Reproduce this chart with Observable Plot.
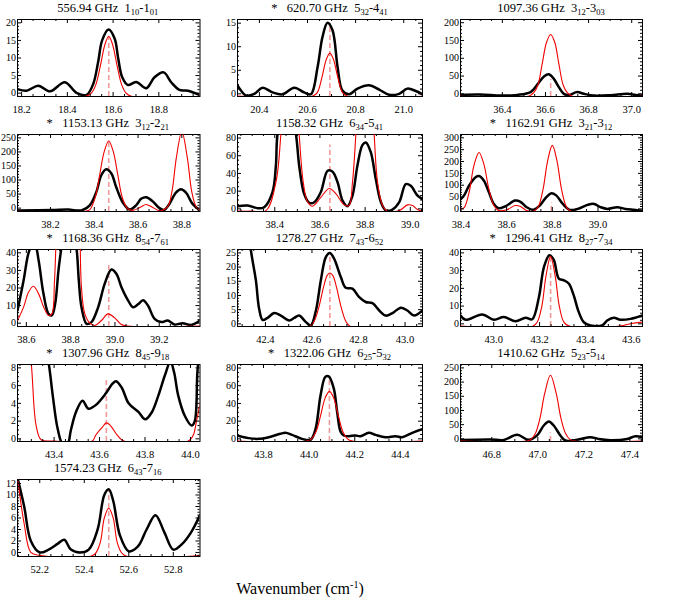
<!DOCTYPE html>
<html><head><meta charset="utf-8">
<script src="https://cdn.jsdelivr.net/npm/d3@7"></script>
<script src="https://cdn.jsdelivr.net/npm/@observablehq/plot@0.6"></script>
<style>
body{margin:0;background:#fff;}
#chart{position:relative;width:678px;height:611px;background:#fff;font-family:"Liberation Serif","Times New Roman",Times,"DejaVu Serif",serif;color:#000;overflow:hidden;}
.ttl{position:absolute;text-align:center;font-size:12.5px;line-height:14px;white-space:nowrap;}
.ttl sub{font-size:8.5px;vertical-align:baseline;position:relative;top:3px;}
.pn{position:absolute;}
#xlab{position:absolute;left:200px;width:200px;top:579px;text-align:center;font-size:16px;line-height:20px;white-space:nowrap;}
#xlab sup{font-size:10px;vertical-align:baseline;position:relative;top:-6px;}
</style></head><body><div id="chart"></div>
<script>
// ---------- titles ----------
const freqs = ["556.94","620.70","1097.36","1153.13","1158.32","1162.91","1168.36","1278.27","1296.41","1307.96","1322.06","1410.62","1574.23"];
const starred = [false,true,false,true,false,true,true,false,true,true,true,false,false];
const upperJ = ["1","5","3","3","6","3","8","7","8","8","6","5","6"];
const upperK = ["10","32","12","12","34","21","54","43","27","45","25","23","43"];
const lowerJ = ["1","4","3","2","5","3","7","6","7","9","5","5","7"];
const lowerK = ["01","41","03","21","41","12","61","52","34","18","32","14","16"];

// ---------- axes ----------
const xDomains = [[18.182,18.980],[20.309,21.078],[36.206,37.050],[38.049,38.883],[38.235,39.054],[38.398,39.195],[38.560,39.384],[42.280,43.075],[42.855,43.649],[43.239,44.042],[43.686,44.497],[46.664,47.455],[52.10,52.92]];
const yDomains = [[-0.96,20.96],[-0.57,15.78],[-7.5,209],[-12,262],[-3,84],[-11,314],[-1.9,41.9],[-0.94,26.2],[-1.5,41.9],[-0.3,8.38],[-3,84],[-9.4,262],[-0.7,12.7]];
const xTicks = [[18.2,18.4,18.6,18.8],[20.4,20.6,20.8,21.0],[36.4,36.6,36.8,37.0],[38.2,38.4,38.6,38.8],[38.4,38.6,38.8,39.0],[38.4,38.6,38.8,39.0],[38.6,38.8,39.0,39.2],[42.4,42.6,42.8,43.0],[43.0,43.2,43.4,43.6],[43.4,43.6,43.8,44.0],[43.8,44.0,44.2,44.4],[46.8,47.0,47.2,47.4],[52.2,52.4,52.6,52.8]];
const yTicks = [[0,5,10,15,20],[0,5,10,15],[0,50,100,150,200],[0,50,100,150,200,250],[0,20,40,60,80],[0,50,100,150,200,250,300],[0,10,20,30,40],[0,5,10,15,20,25],[0,10,20,30,40],[0,2,4,6,8],[0,20,40,60,80],[0,50,100,150,200,250],[0,2,4,6,8,10,12]];

// ---------- line centres (dashed markers) ----------
const lineX = [18.581,20.693,36.624,38.466,38.644,38.796,38.972,42.677,43.248,43.630,44.089,47.055,52.51];
const lineTop = [16,15,40,236,72,25,34,25,37.7,6.6,68,21,10.8];

// ---------- observed spectra (black) ----------
const obs1 = [[18.182,1.15],[18.222,0.7],[18.273,2.1],[18.324,0.5],[18.389,3.1],[18.440,0.1],[18.484,-0.5],[18.513,2.6],[18.535,9],[18.552,15],[18.580,18.1],[18.607,15.5],[18.622,10],[18.640,4.5],[18.665,2.3],[18.701,3.2],[18.745,1.4],[18.781,4.5],[18.821,5.9],[18.854,3.1],[18.890,0.9],[18.927,0.7],[18.980,-0.6]];
const obs2 = [[20.309,1.8],[20.325,0.6],[20.344,-0.35],[20.379,0],[20.413,1.3],[20.455,0.3],[20.496,-0.1],[20.545,1.3],[20.586,0.3],[20.614,-0.1],[20.642,5.7],[20.662,12],[20.683,15.1],[20.704,13.5],[20.725,5.7],[20.745,0.7],[20.773,-0.1],[20.808,1.1],[20.856,1.8],[20.898,0.9],[20.939,-0.2],[20.981,0],[21.015,1.1],[21.050,0.6],[21.078,-0.1]];
const obs3 = [[36.206,-3],[36.299,-2],[36.392,-5],[36.469,-3],[36.531,5],[36.565,28],[36.593,49],[36.616,55],[36.639,42],[36.662,19],[36.685,0],[36.709,-3],[36.747,5],[36.778,0],[36.824,-5],[36.902,-4],[36.979,0],[37.018,-3],[37.050,-5]];
const obs4 = [[38.049,-8],[38.205,-7],[38.281,-5],[38.341,-8],[38.379,10],[38.409,57],[38.432,117],[38.455,138],[38.478,123],[38.500,75],[38.531,19],[38.561,-5],[38.591,10],[38.614,33],[38.637,39],[38.667,24],[38.698,0],[38.720,-6],[38.743,15],[38.773,55],[38.796,67],[38.819,55],[38.849,15],[38.883,-8]];
const obs5 = [[38.235,3],[38.280,3.8],[38.324,0.8],[38.353,1.9],[38.390,19],[38.405,49],[38.412,84],[38.455,138],[38.494,84],[38.508,49],[38.530,17],[38.553,6.8],[38.575,7.5],[38.604,19],[38.634,43],[38.656,42],[38.678,30],[38.700,9.4],[38.722,3],[38.744,15],[38.766,49],[38.788,72],[38.803,75],[38.825,64],[38.847,34],[38.870,7.5],[38.892,-1.9],[38.921,-0.8],[38.951,7.5],[38.980,28],[39.002,26],[39.032,15],[39.054,11]];
const obs6 = [[38.398,40],[38.414,57],[38.436,99],[38.464,134],[38.479,139],[38.500,120],[38.522,71],[38.544,21],[38.565,3],[38.594,11],[38.637,35],[38.659,31],[38.688,7],[38.717,-4],[38.745,14],[38.774,50],[38.796,66],[38.817,57],[38.846,21],[38.875,-4],[38.911,0],[38.954,17],[38.983,21],[39.012,7],[39.041,0],[39.084,7],[39.120,0],[39.156,-4],[39.195,-8]];
const obs7 = [[38.560,7.2],[38.587,24],[38.610,40],[38.625,44],[38.640,44],[38.655,36],[38.677,17],[38.700,5.3],[38.715,4.4],[38.730,11],[38.745,30],[38.757,42],[38.79,72],[38.827,42],[38.837,24],[38.849,9],[38.872,-0.4],[38.894,0.6],[38.924,9],[38.954,22.5],[38.984,30.5],[39.007,28],[39.029,20.6],[39.059,13],[39.082,9],[39.104,10.7],[39.127,13],[39.149,10],[39.179,2.5],[39.209,0.6],[39.239,1.5],[39.269,-0.8],[39.306,0],[39.344,-1],[39.384,1.5]];
const obs8 = [[42.280,70],[42.31,45],[42.337,26.2],[42.359,15.3],[42.373,5.3],[42.388,1.4],[42.409,2.1],[42.438,3.8],[42.466,2.9],[42.502,1.2],[42.524,2.1],[42.545,2.9],[42.574,0.6],[42.595,-0.6],[42.617,4.7],[42.638,15.3],[42.660,23.6],[42.677,25],[42.695,23],[42.724,16.5],[42.745,12.7],[42.774,12.4],[42.803,9.4],[42.831,7.7],[42.860,7.3],[42.889,4.7],[42.917,2.9],[42.946,3.8],[42.982,5.7],[43.010,4.7],[43.039,2.9],[43.075,4.7]];
const obs9 = [[42.855,4.7],[42.877,2.3],[42.950,5.3],[43.001,2.3],[43.044,3.8],[43.095,1.5],[43.139,3.4],[43.168,2.6],[43.197,15],[43.219,32],[43.243,38.7],[43.262,36],[43.284,25.5],[43.306,24.5],[43.328,22.6],[43.349,16],[43.371,6.6],[43.393,0.9],[43.422,-0.9],[43.473,-0.9],[43.495,1.9],[43.524,3.4],[43.553,2.3],[43.597,2.8],[43.649,4.7]];
const obs10 = [[43.239,30],[43.30,20],[43.35,12],[43.377,8.4],[43.394,4.9],[43.416,1.1],[43.438,-0.6],[43.459,-0.6],[43.474,1],[43.496,3.0],[43.525,4.3],[43.551,3.4],[43.583,3.8],[43.627,5.1],[43.656,6.2],[43.673,6.5],[43.699,5.7],[43.728,4.0],[43.772,3.0],[43.801,2.2],[43.830,3.0],[43.859,4.9],[43.888,7.2],[43.912,8.7],[43.928,7.5],[43.946,4.9],[43.975,2.6],[44.005,1.5],[44.019,2.0],[44.031,7.7],[44.042,10]];
const obs11 = [[43.684,3.8],[43.735,0.8],[43.779,0],[43.823,1.9],[43.874,5.7],[43.896,6.8],[43.925,4.5],[43.969,0],[44.006,-1.1],[44.028,11],[44.050,49],[44.071,70],[44.086,70.6],[44.108,57],[44.123,30],[44.138,8],[44.152,3.8],[44.174,3],[44.203,3.8],[44.225,3],[44.262,6.8],[44.291,4.5],[44.335,1.9],[44.379,3],[44.408,1.9],[44.452,6.8],[44.497,11]];
const obs12 = [[46.664,-4],[46.794,-2],[46.852,-4],[46.910,14],[46.961,-3.5],[46.997,12],[47.026,47],[47.048,61],[47.069,47],[47.098,12],[47.120,-6],[47.171,-3.5],[47.229,6],[47.265,-0.5],[47.315,-4.7],[47.388,-0.5],[47.424,9.4],[47.455,6]];
const obs13 = [[52.10,13],[52.13,8],[52.16,2],[52.20,0],[52.24,0.5],[52.28,1.5],[52.31,2.2],[52.34,0.5],[52.38,0],[52.42,0.5],[52.46,4],[52.49,10],[52.51,11],[52.53,9],[52.56,3],[52.60,0.2],[52.64,1],[52.68,4],[52.72,6.5],[52.76,3.5],[52.80,0.5],[52.84,1.5],[52.88,3.5],[52.92,6.5]];

// ---------- model spectra (red) ----------
const mod1 = [[18.182,-0.9],[18.48,-0.9],[18.505,0],[18.525,2.5],[18.545,8],[18.565,14],[18.581,16.2],[18.597,14],[18.617,8],[18.637,2.5],[18.657,0],[18.68,-0.9],[18.98,-0.9]];
const mod2 = [[20.309,-0.5],[20.62,-0.5],[20.64,0.2],[20.66,3.5],[20.678,7.3],[20.693,8.65],[20.708,7.3],[20.726,3.5],[20.746,0.2],[20.766,-0.5],[21.078,-0.5]];
const mod3 = [[36.206,-7],[36.52,-7],[36.545,3],[36.565,25],[36.585,85],[36.605,145],[36.624,167],[36.643,145],[36.662,85],[36.682,25],[36.702,3],[36.725,-7],[37.050,-7]];
const mod4 = [[38.049,-11],[38.36,-11],[38.38,-5],[38.405,40],[38.425,120],[38.445,200],[38.466,239],[38.487,200],[38.507,120],[38.527,40],[38.55,0],[38.575,-8],[38.61,3],[38.637,13],[38.665,3],[38.70,-9],[38.735,5],[38.755,60],[38.775,180],[38.80,272],[38.825,180],[38.845,60],[38.865,5],[38.883,-8]];
const mod5 = [[38.235,-2.6],[38.30,-2.6],[38.361,-2],[38.405,30],[38.427,84],[38.466,239],[38.508,84],[38.526,30],[38.545,8],[38.567,3],[38.604,13],[38.641,23],[38.671,17],[38.707,4.5],[38.729,3.8],[38.744,30],[38.759,84],[38.80,272],[38.840,84],[38.855,30],[38.877,3.8],[38.899,-2.6],[38.951,-2],[38.988,4.5],[39.010,3.8],[39.032,-0.8],[39.054,-2.6]];
const mod6 = [[38.398,0],[38.414,5],[38.436,71],[38.457,184],[38.479,238],[38.500,190],[38.522,85],[38.544,14],[38.565,-7],[38.601,-4],[38.637,14],[38.659,11],[38.688,-7],[38.72,-9],[38.74,12],[38.76,85],[38.78,205],[38.80,268],[38.82,205],[38.84,85],[38.86,12],[38.88,-9],[39.195,-10]];
const mod7 = [[38.560,1.5],[38.587,9],[38.610,17.7],[38.632,21],[38.655,16.8],[38.677,9.5],[38.700,4.4],[38.715,5.3],[38.727,24],[38.735,50],[38.80,270],[38.842,50],[38.849,20],[38.864,5.3],[38.887,0],[38.909,-1.3],[38.939,1.5],[38.969,5.3],[38.999,3],[39.029,-0.8],[39.059,-1.7],[39.384,-1.7]];
const mod8 = [[42.280,-0.9],[42.59,-0.9],[42.61,1],[42.63,6],[42.65,13],[42.665,17],[42.677,17.9],[42.69,17],[42.705,13],[42.725,6],[42.745,1],[42.765,-0.9],[43.075,-0.9]];
const mod9 = [[42.855,-1.3],[43.17,-1.3],[43.19,1],[43.21,10],[43.228,27],[43.248,38],[43.268,27],[43.286,10],[43.306,1],[43.33,-1.3],[43.55,-1.3],[43.60,0.2],[43.649,1]];
const mod10 = [[43.239,40],[43.27,16],[43.300,8.4],[43.321,1.5],[43.343,-0.1],[43.40,-0.25],[43.568,-0.25],[43.583,0.4],[43.612,1.3],[43.630,1.8],[43.648,1.5],[43.677,0.45],[43.707,-0.25],[43.990,-0.25],[44.012,0.4],[44.026,1.9],[44.042,4]];
const mod11 = [[43.684,-2.6],[43.99,-2.6],[44.01,0],[44.03,8],[44.05,26],[44.07,46],[44.089,53.6],[44.108,46],[44.128,26],[44.148,8],[44.168,0],[44.19,-2.6],[44.497,-2.6]];
const mod12 = [[46.664,-8],[46.95,-8],[46.97,-2],[46.99,20],[47.01,75],[47.03,160],[47.055,224],[47.08,160],[47.10,75],[47.12,20],[47.14,-2],[47.16,-8],[47.455,-8]];
const mod13 = [[52.10,13],[52.13,5],[52.16,0],[52.20,-0.5],[52.44,-0.5],[52.47,1.5],[52.49,6],[52.51,7.7],[52.53,6],[52.55,1.5],[52.58,-0.5],[52.92,-0.5]];

const observed = [obs1,obs2,obs3,obs4,obs5,obs6,obs7,obs8,obs9,obs10,obs11,obs12,obs13];
const models = [mod1,mod2,mod3,mod4,mod5,mod6,mod7,mod8,mod9,mod10,mod11,mod12,mod13];

// ---------- layout ----------
const colX = [16.5, 237, 460], colW = [182.5, 185, 182];
const rowY0 = 19, rowStep = 115, frameH = 77;
const ML = 30, MR = 4, MT = 2, MB = 24;

function minorTicks(domain, major) {
  const step = major[1] - major[0];
  const mant = step / Math.pow(10, Math.floor(Math.log10(step) + 1e-9));
  const n = Math.abs(mant - 2) < 0.01 ? 4 : 5;
  const ms = step / n, out = [];
  for (let k = Math.ceil(domain[0] / ms - 1e-6); k * ms <= domain[1] + 1e-9; k++) {
    const v = +(k * ms).toFixed(6);
    if (!major.some(t => Math.abs(t - v) < ms / 10)) out.push(v);
  }
  return out;
}

const chart = document.getElementById("chart");
for (let i = 0; i < freqs.length; i++) {
  const col = i % 3, row = Math.floor(i / 3);
  const fx = colX[col], fy = rowY0 + row * rowStep, fw = colW[col];
  const xd = xDomains[i], yd = yDomains[i], xt = xTicks[i], yt = yTicks[i];
  const xm = minorTicks(xd, xt), ym = minorTicks(yd, yt);
  const svg = Plot.plot({
    width: fw + ML + MR, height: frameH + MT + MB,
    marginLeft: ML, marginRight: MR, marginTop: MT, marginBottom: MB,
    x: {domain: xd}, y: {domain: yd},
    style: {fontFamily: '"Liberation Serif", "Times New Roman", Times, serif', fontSize: "10px", color: "#000", background: "transparent", overflow: "visible"},
    marks: [
      Plot.frame({stroke: "#000", strokeWidth: 1}),
      Plot.ruleX([lineX[i]], {x: d => d, y1: yd[0], y2: lineTop[i], stroke: "#f29a9a", strokeWidth: 1.6, strokeDasharray: "5,3"}),
      Plot.line(observed[i], {x: d => d[0], y: d => d[1], stroke: "#000", strokeWidth: 2.5, curve: "catmull-rom", clip: true}),
      Plot.line(models[i], {x: d => d[0], y: d => d[1], stroke: "#f00000", strokeWidth: 1.1, curve: "catmull-rom", clip: true}),
      Plot.tickX(xt, {x: d => d, insetTop: frameH - 4, stroke: "#000"}),
      Plot.tickX(xt, {x: d => d, insetBottom: frameH - 4, stroke: "#000"}),
      Plot.tickX(xm, {x: d => d, insetTop: frameH - 2, stroke: "#000"}),
      Plot.tickX(xm, {x: d => d, insetBottom: frameH - 2, stroke: "#000"}),
      Plot.tickY(yt, {y: d => d, insetRight: fw - 4, stroke: "#000"}),
      Plot.tickY(yt, {y: d => d, insetLeft: fw - 4, stroke: "#000"}),
      Plot.tickY(ym, {y: d => d, insetRight: fw - 2, stroke: "#000"}),
      Plot.tickY(ym, {y: d => d, insetLeft: fw - 2, stroke: "#000"}),
      Plot.axisX(xt, {tickSize: 0, tickPadding: 9, fontSize: 10.5, tickFormat: d => d.toFixed(1)}),
      Plot.axisY(yt, {tickSize: 0, tickPadding: 1.5, tickFormat: d => String(d)})
    ]
  });
  svg.classList.add("pn");
  svg.style.left = (fx - ML) + "px";
  svg.style.top = (fy - MT) + "px";
  chart.appendChild(svg);
  const t = document.createElement("div");
  t.className = "ttl";
  t.style.left = (fx - 20) + "px";
  t.style.width = (fw + 40) + "px";
  t.style.top = (fy - 18) + "px";
  t.innerHTML = (starred[i] ? "*&nbsp;&nbsp; " : "") + freqs[i] + " GHz&nbsp;&nbsp;" +
    upperJ[i] + "<sub>" + upperK[i] + "</sub>-" + lowerJ[i] + "<sub>" + lowerK[i] + "</sub>";
  chart.appendChild(t);
}
const xl = document.createElement("div");
xl.id = "xlab";
xl.innerHTML = "Wavenumber (cm<sup>-1</sup>)";
chart.appendChild(xl);
</script></body></html>
